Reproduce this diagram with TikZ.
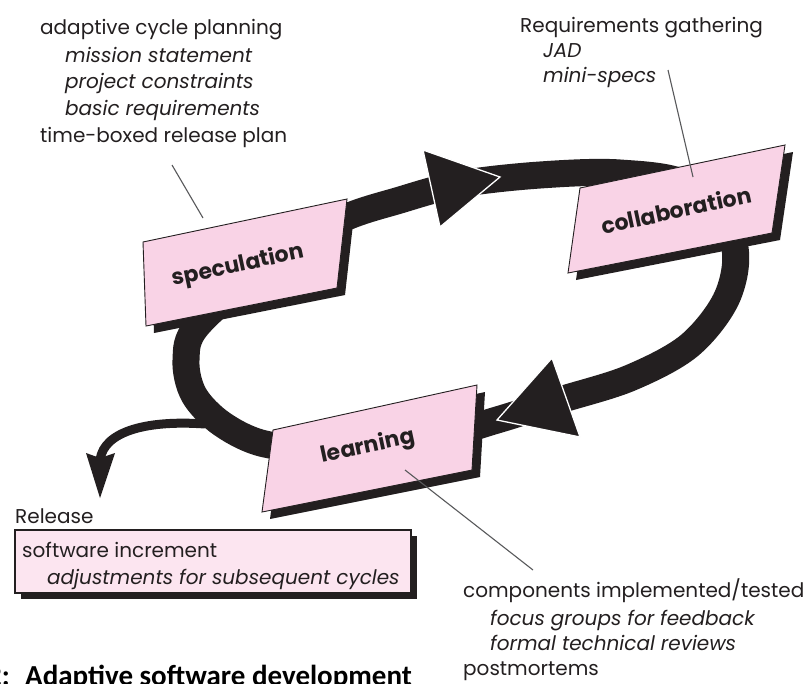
\documentclass[tikz,border=0pt]{standalone}
\usepackage{fontspec}
\setmainfont{Poppins}
\newfontfamily\capfont{Carlito}
\usetikzlibrary{calc}
\definecolor{ink}{HTML}{231F20}
\definecolor{cardpink}{HTML}{F9D3E6}
\definecolor{notepink}{HTML}{FCE5F0}
\definecolor{leadgray}{HTML}{58595B}
\newcommand{\notesize}{\fontsize{20}{24}\selectfont}
\begin{document}
\begin{tikzpicture}[x=1pt,y=-1pt,
  band/.style={line width=27pt, draw=ink, line join=round},
  thinband/.style={line width=9pt, draw=ink, line cap=butt},
  head/.style={fill=ink, draw=white, line width=1.3pt, line join=miter},
  cardshadow/.style={fill=ink},
  card/.style={fill=cardpink, draw=ink, line width=0.9pt, line join=miter},
  cardlabel/.style={font=\bfseries\fontsize{22}{22}\selectfont, text=ink, rotate=12, inner sep=0pt},
  note/.style={font=\notesize, text=ink, inner sep=0pt, anchor=base west},
  notei/.style={note, font=\notesize\itshape},
  lead/.style={draw=leadgray, line width=1.1pt},
]
\useasboundingbox (0,0) rectangle (810,683);
\clip (0,0) rectangle (810,683);
\fill[white] (0,0) rectangle (810,683);

% ---- the cycle band (clockwise) ----
\draw[band] plot[smooth cycle, tension=0.55] coordinates {
  (270,262) (340,220) (400,200) (460,184) (540,175) (620,173) (690,186)
  (733,240) (728,295) (690,345) (630,378) (560,400) (497,420) (430,438)
  (330,448) (265,444) (222,424) (194,395) (186,360) (198,325)};

% release branch
\coordinate (relstart) at (205,424);
\coordinate (relend) at (100,460);
\draw[thinband] (relstart) .. controls (150,420) and (104,430) .. (relend);
\fill[ink] (86,453) -- (100,458) -- (115,453) -- (100,498) -- cycle;

% arrowheads on the band
\path[head] (423,150) -- (500,177) -- (440,227) -- cycle;
\path[head] (552,358) -- (580,437) -- (497,420) -- cycle;

% ---- cards ----
% speculation
\fill[cardshadow] ($(143,242)+(8,7)$) -- ($(347,199)+(8,7)$) -- ($(337,288)+(8,7)$) -- ($(146,326)+(8,7)$) -- cycle;
\path[card] (143,242) -- (347,199) -- (337,288) -- (146,326) -- cycle;
\node[cardlabel] (spec) at (238,266) {speculation};

% collaboration
\fill[cardshadow] ($(580,188)+(8,7)$) -- ($(785,145)+(8,7)$) -- ($(772,233)+(8,7)$) -- ($(568,273)+(8,7)$) -- cycle;
\path[card] (580,188) -- (785,145) -- (772,233) -- (568,273) -- cycle;
\node[cardlabel] (collab) at (676,210) {collaboration};

% learning
\fill[cardshadow] ($(273,430)+(8,7)$) -- ($(477,385)+(8,7)$) -- ($(472,470)+(8,7)$) -- ($(262,512)+(8,7)$) -- cycle;
\path[card] (273,430) -- (477,385) -- (472,470) -- (262,512) -- cycle;
\node[cardlabel] (learn) at (368,447) {learning};

% ---- release note box ----
\fill[ink] (21,536) rectangle (417,599);
\path[fill=notepink, draw=ink, line width=1.1pt] (15,530) rectangle (411,593);

% ---- annotations ----
\node[note]  (sp1) at (40,34)  {adaptive cycle planning};
\node[notei] (sp2) at (65,62)  {mission statement};
\node[notei] (sp3) at (65,88)  {project constraints};
\node[notei] (sp4) at (65,115) {basic requirements};
\node[note]  (sp5) at (40,142) {time-boxed release plan};

\node[note]  (co1) at (520,32) {Requirements gathering};
\node[notei] (co2) at (543,57) {JAD};
\node[notei] (co3) at (543,82) {mini-specs};

\node[note]  (re1) at (15,523) {Release};
\node[note]  (re2) at (22,557) {software increment};
\node[notei] (re3) at (47,584) {adjustments for subsequent cycles};

\node[note]  (le1) at (463,597) {components implemented/tested};
\node[notei] (le2) at (490,625) {focus groups for feedback};
\node[notei] (le3) at (490,650) {formal technical reviews};
\node[note]  (le4) at (463,675) {postmortems};

% leader lines
\coordinate (spA) at (172,165); \coordinate (spB) at (203,218);
\coordinate (coA) at (668,70);  \coordinate (coB) at (693,177);
\coordinate (leA) at (405,470); \coordinate (leB) at (533,570);
\draw[lead] (spA) -- (spB);
\draw[lead] (coA) -- (coB);
\draw[lead] (leA) -- (leB);

% caption
\node[font=\capfont\bfseries\fontsize{29}{29}\selectfont, text=black, inner sep=0pt, anchor=base east] (capnum) at (10,685) {2:};
\node[font=\capfont\bfseries\fontsize{29}{29}\selectfont, text=black, inner sep=0pt, anchor=base west] (cap) at (25,685) {Adaptive software development};
\end{tikzpicture}
\end{document}
